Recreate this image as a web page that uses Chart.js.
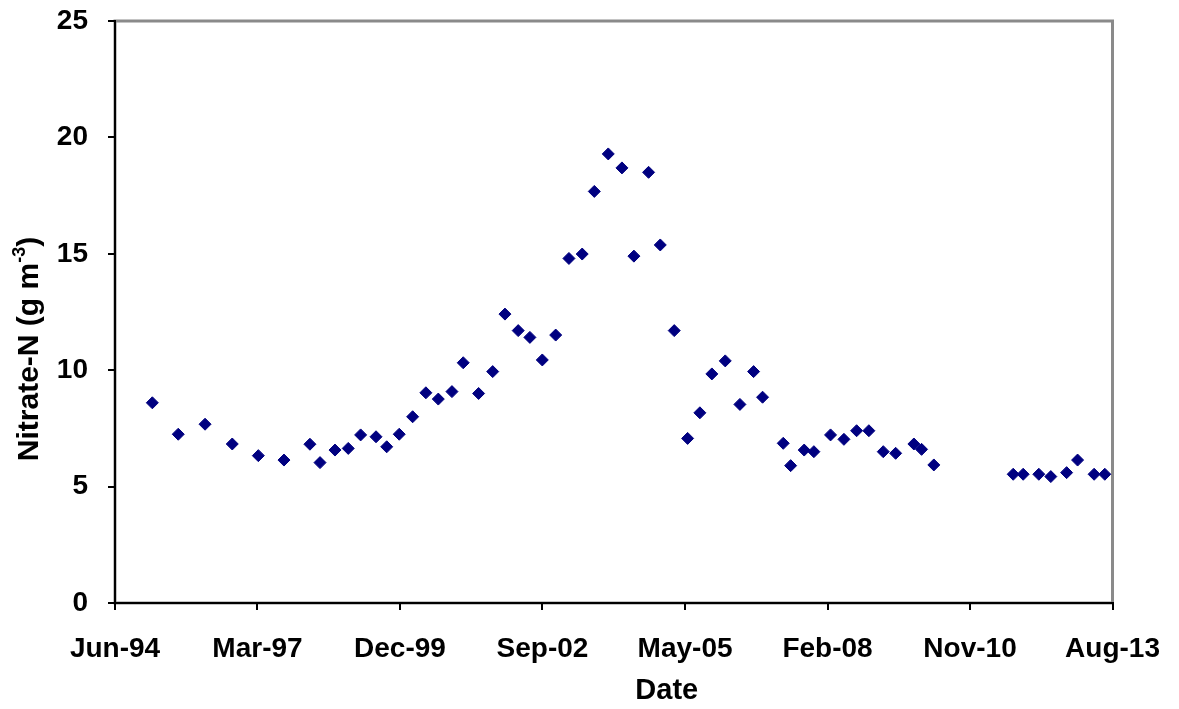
<!DOCTYPE html>
<html>
<head>
<meta charset="utf-8">
<title>Nitrate-N</title>
<script src="https://cdn.jsdelivr.net/npm/chart.js@4/dist/chart.umd.min.js"></script>
<style>
  html, body { margin: 0; padding: 0; background: #ffffff; }
  #wrap { width: 1179px; height: 709px; }
</style>
</head>
<body>
<div id="wrap"><canvas id="chart" width="1179" height="709"></canvas></div>
<script>
// Sampling dates of the nitrate measurements
const sampleDates = [
  '1995-03-04', '1995-09-02', '1996-03-08', '1996-09-15', '1997-03-17', '1997-09-13',
  '1998-03-14', '1998-05-24', '1998-09-06', '1998-12-08', '1999-03-05', '1999-06-21',
  '1999-09-04', '1999-12-01', '2000-03-04', '2000-06-05', '2000-08-31', '2000-12-05',
  '2001-02-22', '2001-06-10', '2001-09-17', '2001-12-12', '2002-03-15', '2002-06-05',
  '2002-08-31', '2002-12-03', '2003-03-06', '2003-06-07', '2003-08-31', '2003-12-07',
  '2004-03-12', '2004-06-04', '2004-09-15', '2004-12-06', '2005-03-14', '2005-06-16',
  '2005-09-10', '2005-12-03', '2006-03-07', '2006-06-18', '2006-09-22', '2006-11-24',
  '2007-04-18', '2007-06-09', '2007-09-12', '2007-11-19', '2008-03-15', '2008-06-17',
  '2008-09-14', '2008-12-09', '2009-03-20', '2009-06-15', '2009-10-21', '2009-12-14',
  '2010-03-10', '2011-09-18', '2011-11-27', '2012-03-16', '2012-06-08', '2012-09-27',
  '2012-12-13', '2013-04-08', '2013-06-22'
];

// Nitrate-N concentration (g m-3)
const nitrateN = [
  8.60, 7.25, 7.68, 6.83, 6.33, 6.14,
  6.82, 6.03, 6.57, 6.64, 7.22, 7.14,
  6.71, 7.25, 8.00, 9.03, 8.76, 9.08,
  10.32, 9.00, 9.94, 12.41, 11.70, 11.41,
  10.44, 11.51, 14.80, 14.99, 17.68, 19.29,
  18.69, 14.90, 18.50, 15.38, 11.70, 7.07,
  8.17, 9.84, 10.40, 8.53, 9.94, 8.84,
  6.86, 5.90, 6.57, 6.50, 7.22, 7.03,
  7.40, 7.40, 6.50, 6.43, 6.83, 6.60,
  5.93, 5.53, 5.53, 5.53, 5.43, 5.60,
  6.14, 5.53, 5.53
];

// Date axis: major ticks every 1000 days
const xTickDates = ['1994-06-15', '1997-03-11', '1999-12-06', '2002-09-01',
                    '2005-05-29', '2008-02-23', '2010-11-19', '2013-08-15'];
const xTickLabels = ['Jun-94', 'Mar-97', 'Dec-99', 'Sep-02', 'May-05', 'Feb-08', 'Nov-10', 'Aug-13'];

// Concentration axis
const yTickValues = [0, 5, 10, 15, 20, 25];
const yTickLabels = ['0', '5', '10', '15', '20', '25'];

// Spreadsheet-style day number (days since 1899-12-30)
function dayNumber(iso) {
  const [y, m, d] = iso.split('-').map(Number);
  return (Date.UTC(y, m - 1, d) - Date.UTC(1899, 11, 30)) / 86400000;
}

const points = sampleDates.map((d, i) => ({ x: dayNumber(d), y: nitrateN[i] }));
const xTicks = xTickDates.map(dayNumber);

const FONT = '"Liberation Sans", Arial, sans-serif';

// Grey plot-area frame (top and right edges show it)
const frame = {
  id: 'frame',
  beforeDraw(chart) {
    const { ctx, chartArea: a } = chart;
    ctx.save();
    ctx.strokeStyle = '#8a8a8a';
    ctx.lineWidth = 3;
    ctx.strokeRect(a.left, a.top, a.right - a.left, a.bottom - a.top);
    ctx.restore();
  }
};

// Axis titles: rotated y title with a superscript exponent, and the date title
const axisTitles = {
  id: 'axisTitles',
  afterDraw(chart) {
    const { ctx, chartArea: a } = chart;
    const main = 'Nitrate-N (g m';
    const sup = '-3';
    const tail = ')';
    const big = 'bold 30px ' + FONT;
    const small = 'bold 18px ' + FONT;
    ctx.save();
    ctx.fillStyle = '#000000';
    ctx.textBaseline = 'middle';
    ctx.font = big;
    const w1 = ctx.measureText(main).width;
    const w3 = ctx.measureText(tail).width;
    ctx.font = small;
    const w2 = ctx.measureText(sup).width;
    const total = w1 + w2 + w3;
    ctx.translate(30, (a.top + a.bottom) / 2 + 37);
    ctx.rotate(-Math.PI / 2);
    let x = -total / 2;
    ctx.textAlign = 'left';
    ctx.font = big;
    ctx.fillText(main, x, 0);
    x += w1;
    ctx.font = small;
    ctx.fillText(sup, x, -10);
    x += w2;
    ctx.font = big;
    ctx.fillText(tail, x, 0);
    ctx.restore();

    ctx.save();
    ctx.fillStyle = '#000000';
    ctx.font = 'bold 29px ' + FONT;
    ctx.textAlign = 'center';
    ctx.textBaseline = 'middle';
    ctx.fillText('Date', (a.left + a.right) / 2 + 53, a.bottom + 88);
    ctx.restore();
  }
};

new Chart(document.getElementById('chart'), {
  type: 'scatter',
  data: {
    datasets: [{
      label: 'Nitrate-N',
      data: points,
      pointStyle: 'rectRot',
      pointRadius: 6,
      pointBackgroundColor: '#000080',
      pointBorderColor: '#000080',
      pointBorderWidth: 1
    }]
  },
  options: {
    responsive: false,
    animation: false,
    events: [],
    layout: { padding: { left: 0, top: 21, right: 66.5, bottom: 0 } },
    plugins: {
      legend: { display: false },
      tooltip: { enabled: false }
    },
    scales: {
      x: {
        type: 'linear',
        min: xTicks[0],
        max: xTicks[xTicks.length - 1],
        afterFit(scale) {
          scale.height = 106;
          scale.paddingLeft = 0;
          scale.paddingRight = 0;
        },
        afterBuildTicks(scale) { scale.ticks = xTicks.map(v => ({ value: v })); },
        grid: { drawOnChartArea: false, drawTicks: true, tickLength: 7, color: '#000000', lineWidth: 2 },
        border: { display: true, color: '#000000', width: 2 },
        ticks: {
          autoSkip: false,
          maxRotation: 0,
          padding: 22,
          color: '#000000',
          font: { family: FONT, size: 28, weight: 'bold' },
          callback: (v, i) => xTickLabels[i]
        }
      },
      y: {
        min: 0,
        max: 25,
        afterFit(scale) {
          scale.width = 115;
          scale.paddingTop = 0;
          scale.paddingBottom = 0;
        },
        afterBuildTicks(scale) { scale.ticks = yTickValues.map(v => ({ value: v })); },
        grid: { drawOnChartArea: false, drawTicks: true, tickLength: 7, color: '#000000', lineWidth: 2 },
        border: { display: true, color: '#000000', width: 2 },
        ticks: {
          padding: 20,
          color: '#000000',
          font: { family: FONT, size: 28, weight: 'bold' },
          callback: (v, i) => yTickLabels[i]
        }
      }
    }
  },
  plugins: [frame, axisTitles]
});
</script>
</body>
</html>
